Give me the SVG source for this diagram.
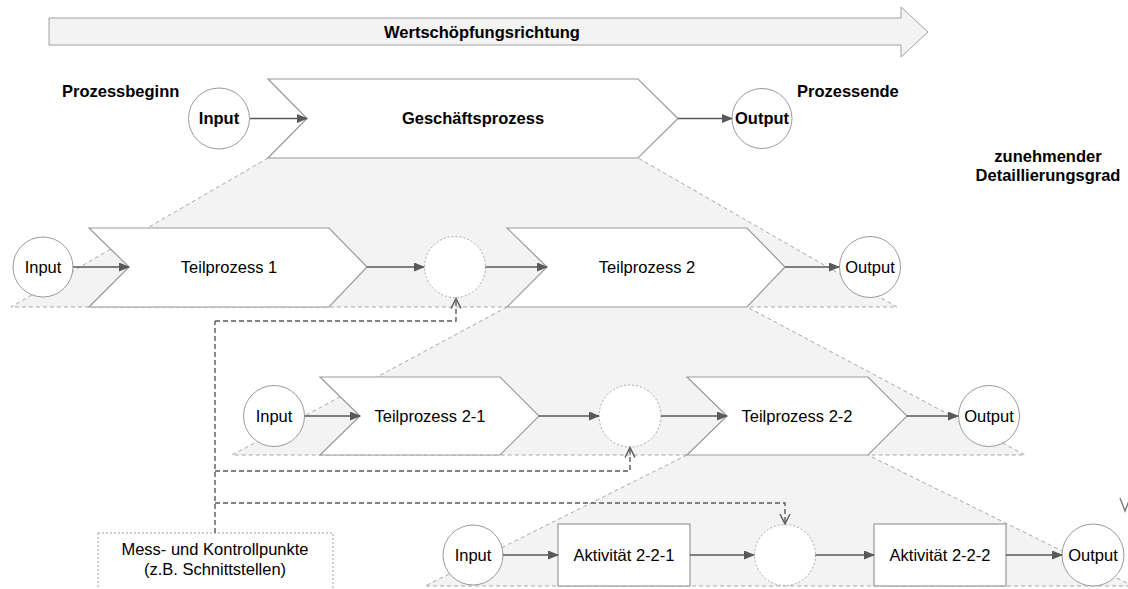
<svg xmlns="http://www.w3.org/2000/svg" width="1128" height="589" viewBox="0 0 1128 589">
<defs>
<marker id="ah" markerUnits="userSpaceOnUse" markerWidth="11" markerHeight="9" refX="10" refY="4.5" orient="auto">
<path d="M0,0 L11,4.5 L0,9 z" fill="#595959"/>
</marker>
<marker id="oh" markerUnits="userSpaceOnUse" markerWidth="12" markerHeight="12" refX="10" refY="6" orient="auto">
<path d="M0,1 L10,6 L0,11" fill="none" stroke="#595959" stroke-width="1.4"/>
</marker>
</defs>
<style>
.bg{fill:#ffffff}
.reg{fill:#f2f3f2;stroke:none}
.regl{fill:none;stroke:#a8a8a8;stroke-width:1;stroke-dasharray:4,3}
.chev{fill:#ffffff;stroke:#9a9a9a;stroke-width:1.2}
.box{fill:#ffffff;stroke:#9a9a9a;stroke-width:1.2}
.io{fill:#ffffff;stroke:#9a9a9a;stroke-width:1}
.mid{fill:#ffffff;stroke:#a8a8a8;stroke-width:1;stroke-dasharray:2,2}
.note{fill:#ffffff;stroke:#a0a0a0;stroke-width:1;stroke-dasharray:2,2}
.flow{fill:none;stroke:#595959;stroke-width:1.6;marker-end:url(#ah)}
.ctl{fill:none;stroke:#595959;stroke-width:1.4;stroke-dasharray:5,3;marker-end:url(#oh)}
.ctl0{fill:none;stroke:#595959;stroke-width:1.4;stroke-dasharray:5,3}
.b{font-family:"Liberation Sans",Arial,sans-serif;font-weight:bold;font-size:16.5px;fill:#000;text-anchor:middle}
.bl{font-family:"Liberation Sans",Arial,sans-serif;font-weight:bold;font-size:16.5px;fill:#000}
.t{font-family:"Liberation Sans",Arial,sans-serif;font-size:16.5px;fill:#000;text-anchor:middle}
</style>
<rect x="0" y="0" width="1128" height="589" class="bg"/>

<g id="direction-arrow">
<polygon points="49,18 901,18 901,7 928,32 901,57 901,45 49,45" fill="#f2f3f2" stroke="#a0a0a0" stroke-width="1"/>
<text x="482" y="38" class="b">Wertschöpfungsrichtung</text>
</g>

<g id="detail-regions">
<polygon class="reg" points="268,158 638,158 897,307 11,307"/>
<polyline class="regl" points="268,158 11,307 897,307 638,158"/>
<polygon class="reg" points="507,307 747,307 1025,455 232,455"/>
<polyline class="regl" points="507,307 232,455 1025,455 747,307"/>
<polygon class="reg" points="687,455 868,455 1133,586 425,586"/>
<polyline class="regl" points="687,455 425,586 1133,586 868,455"/>
</g>

<g id="label-prozessbeginn"><text x="62" y="97" class="bl">Prozessbeginn</text></g>
<g id="label-prozessende"><text x="797" y="97" class="bl">Prozessende</text></g>
<g id="label-detail">
<text x="1048" y="162" class="b">zunehmender</text>
<text x="1048" y="181" class="b">Detaillierungsgrad</text>
</g>

<g id="gp">
<polygon class="chev" points="268,79 638,79 678,118.5 638,158 268,158 307,118.5"/>
<text x="473" y="124" class="b">Geschäftsprozess</text>
</g>
<g id="in0"><circle class="io" cx="219" cy="118.5" r="30.5"/><text x="219" y="124" class="b">Input</text></g>
<g id="out0"><circle class="io" cx="762" cy="118.5" r="30"/><text x="762" y="124" class="b">Output</text></g>

<g id="tp1">
<polygon class="chev" points="89,228 329,228 367,267 329,307 89,307 129,267"/>
<text x="229" y="273" class="t">Teilprozess 1</text>
</g>
<g id="tp2">
<polygon class="chev" points="507,228 747,228 785,267 747,307 507,307 547,267"/>
<text x="647" y="273" class="t">Teilprozess 2</text>
</g>
<g id="in1"><circle class="io" cx="43" cy="267" r="30"/><text x="43" y="273" class="t">Input</text></g>
<g id="mid1"><circle class="mid" cx="455" cy="267" r="30.5"/></g>
<g id="out1"><circle class="io" cx="870" cy="267" r="30.5"/><text x="870" y="273" class="t">Output</text></g>

<g id="tp21">
<polygon class="chev" points="320,377 500,377 539,416 500,455 320,455 360,416"/>
<text x="430" y="422" class="t">Teilprozess 2-1</text>
</g>
<g id="tp22">
<polygon class="chev" points="687,377 868,377 907,416 868,455 687,455 727,416"/>
<text x="797" y="422" class="t">Teilprozess 2-2</text>
</g>
<g id="in2"><circle class="io" cx="274" cy="416" r="30.5"/><text x="274" y="422" class="t">Input</text></g>
<g id="mid2"><circle class="mid" cx="630" cy="416" r="31"/></g>
<g id="out2"><circle class="io" cx="989" cy="416" r="30.5"/><text x="989" y="422" class="t">Output</text></g>

<g id="a221">
<rect class="box" x="558" y="524" width="132" height="62"/>
<text x="624" y="561" class="t">Aktivität 2-2-1</text>
</g>
<g id="a222">
<rect class="box" x="874" y="524" width="132" height="62"/>
<text x="940" y="561" class="t">Aktivität 2-2-2</text>
</g>
<g id="in3"><circle class="io" cx="473" cy="555" r="30"/><text x="473" y="561" class="t">Input</text></g>
<g id="mid3"><circle class="mid" cx="785" cy="555" r="30.5"/></g>
<g id="out3"><circle class="io" cx="1093" cy="555" r="31"/><text x="1093" y="561" class="t">Output</text></g>

<g id="note">
<rect class="note" x="98" y="533" width="235" height="70"/>
<text x="215" y="555" class="t">Mess- und Kontrollpunkte</text>
<text x="215" y="575" class="t">(z.B. Schnittstellen)</text>
</g>

<g id="connectors">
<line class="flow" x1="250" y1="118.5" x2="307" y2="118.5"/>
<line class="flow" x1="678" y1="118.5" x2="732" y2="118.5"/>
<line class="flow" x1="73" y1="267" x2="129" y2="267"/>
<line class="flow" x1="367" y1="267" x2="424" y2="267"/>
<line class="flow" x1="485.5" y1="267" x2="547" y2="267"/>
<line class="flow" x1="785" y1="267" x2="839" y2="267"/>
<line class="flow" x1="304.5" y1="416" x2="360" y2="416"/>
<line class="flow" x1="539" y1="416" x2="599" y2="416"/>
<line class="flow" x1="661" y1="416" x2="727" y2="416"/>
<line class="flow" x1="907" y1="416" x2="958" y2="416"/>
<line class="flow" x1="503" y1="555" x2="558" y2="555"/>
<line class="flow" x1="690" y1="555" x2="754" y2="555"/>
<line class="flow" x1="815.5" y1="555" x2="874" y2="555"/>
<line class="flow" x1="1006" y1="555" x2="1062" y2="555"/>
<line class="ctl0" x1="215" y1="533" x2="215" y2="321"/>
<polyline class="ctl" points="215,321 456,321 456,298.5"/>
<polyline class="ctl" points="215,471 630,471 630,447.5"/>
<polyline class="ctl" points="215,503 785,503 785,524"/>
<polyline points="1120,498 1125,511 1130,498" fill="none" stroke="#7a7a7a" stroke-width="1.4"/>
</g>
</svg>
